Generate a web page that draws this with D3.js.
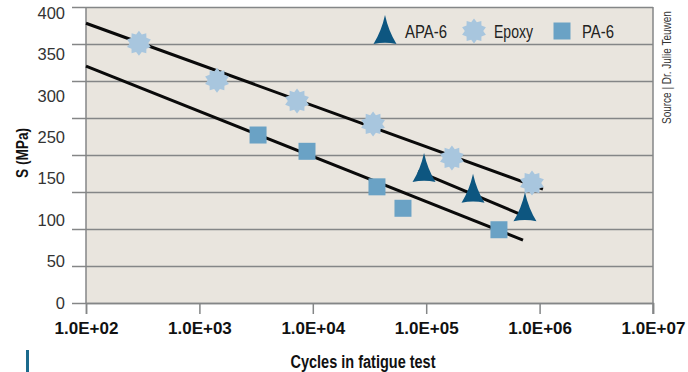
<!DOCTYPE html>
<html><head><meta charset="utf-8">
<script src="https://cdn.jsdelivr.net/npm/d3@7"></script>
<style>body{margin:0;background:#fff} svg{display:block}</style>
</head><body><svg id="c" width="688" height="372"></svg>
<script>
// ---- data ----
const xTicks = [1e2, 1e3, 1e4, 1e5, 1e6, 1e7];
const yGrid = [0, 50, 100, 150, 200, 250, 300, 350, 400];
const yTickLabels = ["400", "350", "300", "250", "150", "100", "50", "0"];
const seriesNames = ["APA-6", "Epoxy", "PA-6"];

const epoxyCycles = [293, 1430, 7260, 34000, 168600, 857000];
const epoxyStress = [351, 301, 273, 242, 196, 162];
const pa6Cycles = [3290, 8890, 36800, 62400, 438000];
const pa6Stress = [227, 205, 157, 128, 99];
const apa6Cycles = [95700, 258800, 743000];
const apa6Stress = [181, 153, 128];

const epoxyFitCycles = [100, 1070000];
const epoxyFitStress = [378, 154];
const apa6FitCycles = [85000, 775000];
const apa6FitStress = [178, 116];
const pa6FitCycles = [100, 714000];
const pa6FitStress = [320, 85];

// ---- layout ----
const svg = d3.select("#c");
const L = 86, T = 7, R = 653, B = 303;
const x = d3.scaleLog().domain([1e2, 1e7]).range([L, R]);
const y = d3.scaleLinear().domain([0, 400]).range([B, T]);
const yLab = d3.scalePoint().domain(yTickLabels).range([T + 6, B]);

const C = {bg: "#e9e5de", grid: "#848687", apa: "#0d5680", epoxy: "#a8c6de", pa: "#6aa2c5"};
const FONT = "'Liberation Sans',Arial,sans-serif";

svg.append("rect").attr("x", L).attr("y", T).attr("width", R - L).attr("height", B - T).attr("fill", C.bg);

// gridlines + left ticks
svg.append("g").attr("transform", `translate(${L},0)`)
  .call(d3.axisLeft(y).tickValues(yGrid).tickSize(14).tickFormat(""))
  .call(g => g.selectAll(".tick line").attr("stroke", C.grid).attr("stroke-width", 1.5))
  .call(g => g.select(".domain").remove());
svg.append("g").attr("transform", `translate(${L},0)`)
  .call(d3.axisRight(y).tickValues(yGrid).tickSize(R - L).tickFormat(""))
  .call(g => g.selectAll(".tick line").attr("stroke", C.grid).attr("stroke-width", 1.5))
  .call(g => g.select(".domain").remove());
// y labels (evenly spaced)
svg.append("g").attr("transform", `translate(${L - 21},0)`)
  .call(d3.axisLeft(yLab).tickSize(0).tickPadding(0))
  .call(g => g.select(".domain").remove())
  .call(g => g.selectAll("text").attr("font-family", FONT).attr("font-size", 16.5).attr("fill", "#333"));

// x axis
svg.append("g").attr("transform", `translate(0,${B})`)
  .call(d3.axisBottom(x).tickValues(xTicks).tickSize(11).tickPadding(8)
    .tickFormat(d => "1.0E+" + String(Math.round(Math.log10(d))).padStart(2, "0")))
  .call(g => g.select(".domain").attr("stroke", C.grid).attr("stroke-width", 1.5))
  .call(g => g.selectAll(".tick line").attr("stroke", C.grid).attr("stroke-width", 1.5))
  .call(g => g.selectAll("text").attr("font-family", FONT).attr("font-weight", "bold").attr("font-size", 17).attr("fill", "#111"));
// left & right borders
svg.append("line").attr("x1", L).attr("x2", L).attr("y1", T).attr("y2", B).attr("stroke", C.grid).attr("stroke-width", 1.5);
svg.append("line").attr("x1", R).attr("x2", R).attr("y1", T).attr("y2", B + 11).attr("stroke", C.grid).attr("stroke-width", 1.5);

// trend lines
const line = d3.line().x(d => x(d[0])).y(d => y(d[1]));
[[epoxyFitCycles, epoxyFitStress], [apa6FitCycles, apa6FitStress], [pa6FitCycles, pa6FitStress]].forEach(([cs, ss]) => {
  svg.append("path").attr("d", line(d3.zip(cs, ss))).attr("stroke", "#0a0a0a").attr("stroke-width", 3).attr("fill", "none");
});

// marker shapes
function starPath(n, r1, r2) {
  const pts = [];
  for (let i = 0; i < 2 * n; i++) {
    const a = Math.PI * i / n - Math.PI / 2, r = i % 2 ? r2 : r1;
    pts.push([r * Math.cos(a), r * Math.sin(a)]);
  }
  return "M" + pts.map(p => p.join(",")).join("L") + "Z";
}
const STAR = starPath(10, 12.5, 9.2);
const TRI = "M0,-16 Q-3.5,0 -11.5,13 Q0,10.5 11.5,13 Q3.5,0 0,-16Z";
const SQ = "M-8.5,-8.5H8.5V8.5H-8.5Z";

svg.append("g").selectAll("path").data(d3.zip(epoxyCycles, epoxyStress)).join("path")
  .attr("d", STAR).attr("fill", C.epoxy).attr("transform", d => `translate(${x(d[0])},${y(d[1])})`);
svg.append("g").selectAll("path").data(d3.zip(pa6Cycles, pa6Stress)).join("path")
  .attr("d", SQ).attr("fill", C.pa).attr("transform", d => `translate(${x(d[0])},${y(d[1])})`);
svg.append("g").selectAll("path").data(d3.zip(apa6Cycles, apa6Stress)).join("path")
  .attr("d", TRI).attr("fill", C.apa).attr("transform", d => `translate(${x(d[0])},${y(d[1])})`);

// legend
const legX = [385, 474, 562], legShapes = [TRI, STAR, SQ], legCols = [C.apa, C.epoxy, C.pa], legLen = [42, 39, 32];
const lg = svg.append("g").selectAll("g").data(seriesNames).join("g")
  .attr("transform", (d, i) => `translate(${legX[i]},31)`);
lg.append("path").attr("d", (d, i) => legShapes[i]).attr("fill", (d, i) => legCols[i]);
lg.append("text").attr("x", 20).attr("y", 6.5).text(d => d)
  .attr("textLength", (d, i) => legLen[i]).attr("lengthAdjust", "spacingAndGlyphs")
  .attr("font-family", FONT).attr("font-size", 18).attr("fill", "#222");

// titles
svg.append("text").attr("x", 363).attr("y", 368).attr("text-anchor", "middle")
  .attr("textLength", 145).attr("lengthAdjust", "spacingAndGlyphs")
  .attr("font-family", FONT).attr("font-weight", "bold").attr("font-size", 18).attr("fill", "#111")
  .text("Cycles in fatigue test");
svg.append("text").attr("transform", "translate(28,153) rotate(-90)").attr("text-anchor", "middle")
  .attr("textLength", 50).attr("lengthAdjust", "spacingAndGlyphs")
  .attr("font-family", FONT).attr("font-weight", "bold").attr("font-size", 16).attr("fill", "#111")
  .text("S (MPa)");
svg.append("text").attr("transform", "translate(671,124) rotate(-90) scale(0.8,1)")
  .attr("font-family", FONT).attr("font-size", 12.5).attr("fill", "#333")
  .text("Source | Dr. Julie Teuwen");
svg.append("rect").attr("x", 26).attr("y", 350).attr("width", 3).attr("height", 22).attr("fill", "#1b6a8c");
</script></body></html>
